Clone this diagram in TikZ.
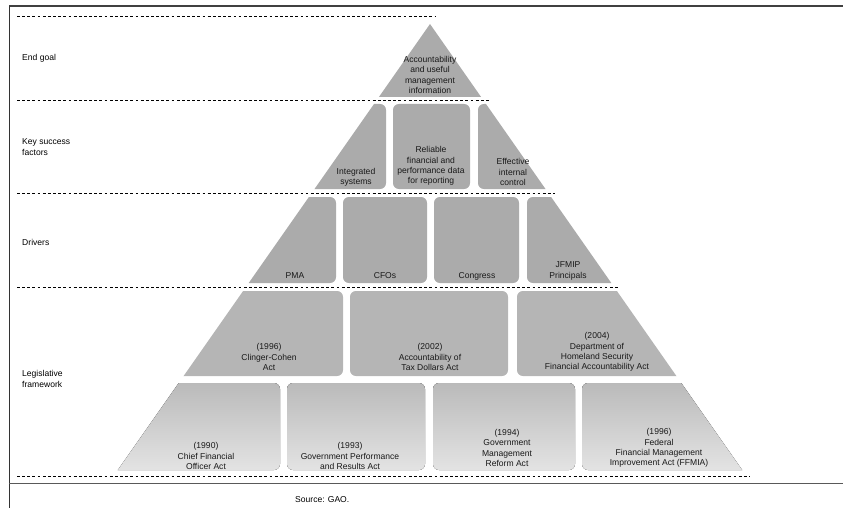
\documentclass[tikz,border=0pt]{standalone}
\usepackage{fontspec}
\setmainfont{Liberation Sans}
\usetikzlibrary{calc}
\tikzset{
	bloc/.style={fill=black!33,rounded corners=5pt},
	blocbas/.style={top color=black!27,bottom color=black!11,rounded corners=5pt},
	txt/.style={align=center,font=\fontsize{7.3}{8.8}\selectfont,inner sep=0pt,text=black!90},
	niveau/.style={align=left,font=\fontsize{7.3}{8.8}\selectfont,anchor=west,inner sep=0pt},
	tiret/.style={dash pattern=on 2.4pt off 2pt,line width=0.7pt}
}

\begin{document}
\begin{tikzpicture}[x=0.03cm,y=-0.03cm]

	\def\sx{430};
	\def\sy{24};
	\def\pente{0.7};
	\useasboundingbox (0,0) rectangle (843,508);

	%Cadre
	\draw[black!75,line width=0.9pt] (9,6) -- (843,6);
	\draw[black!80,line width=0.8pt] (9,6) -- (9,508);
	\draw[black!65,line width=0.7pt] (9,483) -- (843,483);

	%Pyramide
	\coordinate (S) at (\sx,\sy);
	\coordinate (BG) at ({\sx-\pente*(500-\sy)},500);
	\coordinate (BD) at ({\sx+\pente*(500-\sy)},500);
	\begin{scope}
		\clip (S) -- (BD) -- (BG) -- cycle;
		%End goal
		\fill[bloc] (300,0) rectangle (560,97);
		%Key success factors
		\fill[bloc] (200,104) rectangle (386,189);
		\fill[bloc] (393,104) rectangle (470,189);
		\fill[bloc] (478,104) rectangle (660,189);
		%Drivers
		\fill[bloc] (150,197) rectangle (336,283);
		\fill[bloc] (343,197) rectangle (427,283);
		\fill[bloc] (434,197) rectangle (519,283);
		\fill[bloc] (527,197) rectangle (720,283);
		%Legislative framework
		\fill[bloc,fill=black!29] (100,291) rectangle (343,376);
		\fill[bloc,fill=black!29] (350,291) rectangle (508,376);
		\fill[bloc,fill=black!29] (517,291) rectangle (780,376);
		\fill[blocbas] (60,383) rectangle (280,470);
		\fill[blocbas] (287,383) rectangle (425,470);
		\fill[blocbas] (433,383) rectangle (575,470);
		\fill[blocbas] (582,383) rectangle (800,470);
	\end{scope}

	%Lignes pointillees
	\foreach \y/\xd in {16/436,100/490,193/555,287/619,476/750}
		\draw[tiret] (17,\y) -- (\xd,\y);

	%Niveaux
	\node[niveau] (goal) at (22,58) {End goal};
	\node[niveau] (ksf) at (22,147) {Key success\\factors};
	\node[niveau] (drv) at (22,242) {Drivers};
	\node[niveau] (leg) at (22,379) {Legislative\\framework};

	%Textes
	\node[txt] (acc) at (430,75) {Accountability\\and useful\\management\\information};

	\node[txt] (integ) at (356,177) {Integrated\\systems};
	\node[txt] (reli) at (431,166) {Reliable\\financial and\\performance data\\for reporting};
	\node[txt] (effic) at (513,172) {Effective\\internal\\control};

	\node[txt] (pma) at (295,276) {PMA};
	\node[txt] (cfo) at (385,276) {CFOs};
	\node[txt] (cong) at (477,276) {Congress};
	\node[txt] (jfmip) at (568,271) {JFMIP\\Principals};

	\node[txt] (ccact) at (269,357) {(1996)\\Clinger-Cohen\\Act};
	\node[txt] (atda) at (430,357) {(2002)\\Accountability of\\Tax Dollars Act};
	\node[txt] (dhs) at (597,352) {(2004)\\Department of\\Homeland Security\\Financial Accountability Act};

	\node[txt] (cfoact) at (206,456) {(1990)\\Chief Financial\\Officer Act};
	\node[txt] (gpra) at (350,456) {(1993)\\Government Performance\\and Results Act};
	\node[txt] (gmra) at (507,448) {(1994)\\Government\\Management\\Reform Act};
	\node[txt] (ffmia) at (659,448) {(1996)\\Federal\\Financial Management\\Improvement Act (FFMIA)};

	\node[niveau] (src) at (295,500) {Source: GAO.};

\end{tikzpicture}
\end{document}
